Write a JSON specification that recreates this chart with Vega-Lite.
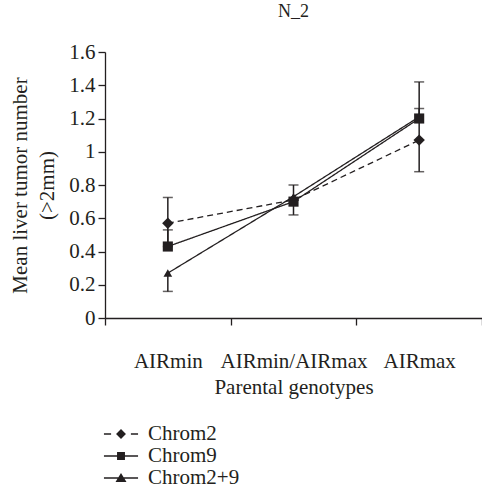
{
  "$schema": "https://vega.github.io/schema/vega-lite/v6.json",
  "autosize": {"type": "none"},
  "width": 377,
  "height": 266,
  "padding": {"left": 105, "top": 52, "right": 0, "bottom": 181},
  "background": "white",
  "title": {"text": "N_2", "fontSize": 18, "font": "Liberation Serif", "fontWeight": "normal", "color": "#231f20", "offset": 20},
  "config": {
    "view": {"stroke": null},
    "font": "Liberation Serif",
    "axis": {"labelFont": "Liberation Serif", "titleFont": "Liberation Serif", "labelColor": "#231f20", "titleColor": "#231f20", "titleFontWeight": "normal", "domainColor": "#231f20", "tickColor": "#231f20", "domainWidth": 1.3, "tickWidth": 1.3, "grid": false, "labelOverlap": false}
  },
  "resolve": {"scale": {"shape": "independent", "size": "independent"}, "legend": {"shape": "independent"}},
  "data": {"values": [
    {"series": "Chrom2", "genotype": "AIRmin", "mean": 0.57, "lo": 0.43, "hi": 0.725},
    {"series": "Chrom2", "genotype": "AIRmin/AIRmax", "mean": 0.71, "lo": 0.62, "hi": 0.80},
    {"series": "Chrom2", "genotype": "AIRmax", "mean": 1.07, "lo": 0.88, "hi": 1.26},
    {"series": "Chrom9", "genotype": "AIRmin", "mean": 0.43, "lo": 0.43, "hi": 0.53},
    {"series": "Chrom9", "genotype": "AIRmin/AIRmax", "mean": 0.70, "lo": 0.70, "hi": 0.70},
    {"series": "Chrom9", "genotype": "AIRmax", "mean": 1.20, "lo": 1.20, "hi": 1.42},
    {"series": "Chrom2+9", "genotype": "AIRmin", "mean": 0.27, "lo": 0.16, "hi": 0.27},
    {"series": "Chrom2+9", "genotype": "AIRmin/AIRmax", "mean": 0.73, "lo": 0.73, "hi": 0.73},
    {"series": "Chrom2+9", "genotype": "AIRmax", "mean": 1.21, "lo": 1.21, "hi": 1.21}
  ]},
  "encoding": {
    "x": {
      "field": "genotype", "type": "nominal",
      "sort": ["AIRmin", "AIRmin/AIRmax", "AIRmax"],
      "scale": {"type": "band", "paddingInner": 0, "paddingOuter": 0},
      "axis": {"title": "Parental genotypes", "labelAngle": 0, "tickBand": "extent", "labelFontSize": 21, "titleFontSize": 21, "tickSize": 7, "labelPadding": 25, "titlePadding": 5}
    }
  },
  "layer": [
    {
      "mark": {"type": "line", "color": "#231f20", "strokeWidth": 1.3},
      "encoding": {
        "y": {"field": "mean", "type": "quantitative",
          "scale": {"domain": [0, 1.6]},
          "axis": {"values": [0, 0.2, 0.4, 0.6, 0.8, 1, 1.2, 1.4, 1.6], "tickCount": 12, "format": "~g", "labelOverlap": false, "title": ["Mean liver tumor number", "(>2mm)"], "labelFontSize": 21, "titleFontSize": 21, "tickSize": 7, "labelPadding": 3, "titlePadding": 11, "titleLineHeight": 27}},
        "detail": {"field": "series"},
        "strokeDash": {
          "field": "series", "type": "nominal",
          "scale": {"domain": ["Chrom2", "Chrom9", "Chrom2+9"], "range": [[6, 4], [1, 0], [1, 0]]},
          "legend": null
        }
      }
    },
    {
      "mark": {"type": "rule", "color": "#231f20", "strokeWidth": 1.5},
      "encoding": {"y": {"field": "lo", "type": "quantitative"}, "y2": {"field": "hi"}}
    },
    {
      "transform": [{"filter": "datum.lo < datum.mean"}],
      "mark": {"type": "tick", "orient": "horizontal", "color": "#231f20", "size": 10, "thickness": 1.5},
      "encoding": {"y": {"field": "lo", "type": "quantitative"}}
    },
    {
      "transform": [{"filter": "datum.hi > datum.mean"}],
      "mark": {"type": "tick", "orient": "horizontal", "color": "#231f20", "size": 10, "thickness": 1.5},
      "encoding": {"y": {"field": "hi", "type": "quantitative"}}
    },
    {
      "mark": {"type": "point", "filled": true, "color": "#231f20", "opacity": 1, "strokeWidth": 0},
      "encoding": {
        "y": {"field": "mean", "type": "quantitative"},
        "shape": {"field": "series", "type": "nominal", "scale": {"domain": ["Chrom2", "Chrom9", "Chrom2+9"], "range": ["diamond", "square", "triangle-up"]}, "legend": null},
        "size": {"field": "series", "type": "nominal", "scale": {"domain": ["Chrom2", "Chrom9", "Chrom2+9"], "range": [130, 75, 170]}, "legend": null}
      }
    },
    {
      "mark": {"type": "point", "filled": true, "color": "#231f20", "opacity": 0, "strokeWidth": 0, "size": 484},
      "encoding": {
        "y": {"field": "mean", "type": "quantitative"},
        "shape": {
          "field": "series", "type": "nominal",
          "scale": {"domain": ["Chrom2", "Chrom9", "Chrom2+9"], "range": [
            "M-1.55,-0.06H-0.9V0.06H-1.55Z M0.9,-0.06H1.55V0.06H0.9Z M0,-0.45L0.45,0L0,0.45L-0.45,0Z",
            "M-1.55,-0.06H1.55V0.06H-1.55Z M-0.36,-0.36H0.36V0.36H-0.36Z",
            "M-1.55,-0.06H1.55V0.06H-1.55Z M0,-0.45L0.5,0.36H-0.5Z"
          ]},
          "legend": {
            "title": null, "orient": "none", "legendX": 5, "legendY": 371,
            "padding": 0, "symbolSize": 484, "symbolStrokeWidth": 0, "symbolOpacity": 1,
            "symbolFillColor": "#231f20", "labelOffset": 16,
            "labelFontSize": 21, "labelFont": "Liberation Serif", "labelColor": "#231f20", "rowPadding": 1
          }
        }
      }
    }
  ]
}
